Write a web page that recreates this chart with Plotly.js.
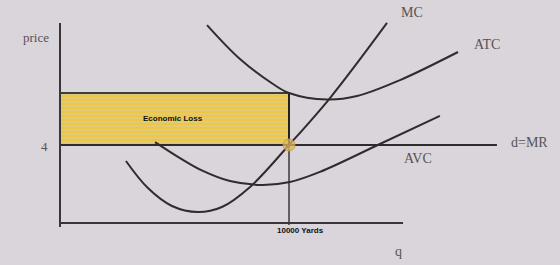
<!DOCTYPE html>
<html>
<head>
<meta charset="utf-8">
<script src="https://cdn.plot.ly/plotly-3.0.1.min.js"></script>
<style>html,body{margin:0;padding:0;background:#dad5da;}#chart{width:560px;height:265px;}</style>
</head>
<body>
<div id="chart"></div>
<script>
// Quantity in thousands of yards, price in dollars
const price = 4;
const qOutput = 10;          // 10000 yards
const atcAtOutput = 6.67;

const mcQ = [2.88, 3.84, 4.89, 6.03, 7.07, 8.30, 10.0, 11.79, 14.28];
const mcP = [3.18, 1.79, 0.87, 0.56, 0.82, 1.85, 4.0, 6.41, 10.26];

const atcQ = [6.42, 7.86, 9.30, 10.0, 11.66, 12.97, 14.85, 17.38];
const atcP = [10.15, 8.41, 7.13, 6.67, 6.33, 6.51, 7.33, 8.77];

const avcQ = [4.15, 5.24, 6.24, 7.42, 8.82, 10.04, 11.35, 13.97, 16.59];
const avcP = [4.15, 3.33, 2.67, 2.15, 1.95, 2.10, 2.62, 4.05, 5.49];

const mrQ = [0, 19.08];
const qAxisEnd = 14.98;
const pAxisTop = 10.26;

const curveLine = {color: '#2f2b2e', width: 2, shape: 'spline', smoothing: 1.0};

const traces = [
  { // economic loss rectangle
    x: [0, qOutput, qOutput, 0, 0], y: [price, price, atcAtOutput, atcAtOutput, price],
    mode: 'lines', fill: 'toself', fillcolor: '#ebc646',
    fillpattern: {shape: '-', bgcolor: '#ecc644', fgcolor: '#d8cfa8', size: 4, solidity: 0.25},
    line: {color: '#111', width: 1.5}, hoverinfo: 'skip'
  },
  { // d = MR
    x: mrQ, y: [price, price], mode: 'lines', line: {color: '#2f2b2e', width: 2}
  },
  { // vertical line at output
    x: [qOutput, qOutput], y: [atcAtOutput, -0.1], mode: 'lines', line: {color: '#111', width: 1.2}
  },
  {x: mcQ, y: mcP, mode: 'lines', line: curveLine},
  {x: atcQ, y: atcP, mode: 'lines', line: curveLine},
  {x: avcQ, y: avcP, mode: 'lines', line: curveLine},
  { // equilibrium point
    x: [qOutput], y: [price], mode: 'markers',
    marker: {size: 12, color: 'rgba(222,182,92,0.75)', line: {color: 'rgba(190,150,70,0.8)', width: 1}}
  }
];

function px(x) { return x / 560; }
function py(y) { return 1 - y / 265; }
const serif = {family: 'Liberation Serif, serif', size: 14, color: '#575256'};
const sans = {family: 'Liberation Sans, Arial, sans-serif', size: 8, color: '#111'};
function ann(text, x, y, font) {
  return {text: text, x: px(x), y: py(y), xref: 'paper', yref: 'paper', showarrow: false,
          xanchor: 'center', yanchor: 'middle', font: font};
}

const layout = {
  width: 560, height: 265,
  margin: {l: 0, r: 0, t: 0, b: 0},
  paper_bgcolor: '#dad5da', plot_bgcolor: '#dad5da',
  showlegend: false,
  xaxis: {range: [-2.620, 21.834], visible: false, fixedrange: true},
  yaxis: {range: [-2.154, 11.436], visible: false, fixedrange: true},
  shapes: [
    {type: 'line', x0: 0, x1: 0, y0: -0.2, y1: pAxisTop, line: {color: '#3a3538', width: 2}},
    {type: 'line', x0: 0, x1: qAxisEnd, y0: 0, y1: 0, line: {color: '#3a3538', width: 2}}
  ],
  annotations: [
    ann('MC', 412, 13, serif),
    ann('ATC', 487, 45, serif),
    ann('d=MR', 529, 142, serif),
    ann('AVC', 418, 158, serif),
    ann('price', 36, 38, Object.assign({}, serif, {size: 13})),
    ann('4', 44, 146, Object.assign({}, serif, {size: 13})),
    ann('q', 398, 251, serif),
    ann('<b>Economic Loss</b>', 173, 118, sans),
    ann('<b>10000 Yards</b>', 300, 230, sans)
  ]
};

Plotly.newPlot('chart', traces, layout, {staticPlot: true, displayModeBar: false});
</script>
</body>
</html>
